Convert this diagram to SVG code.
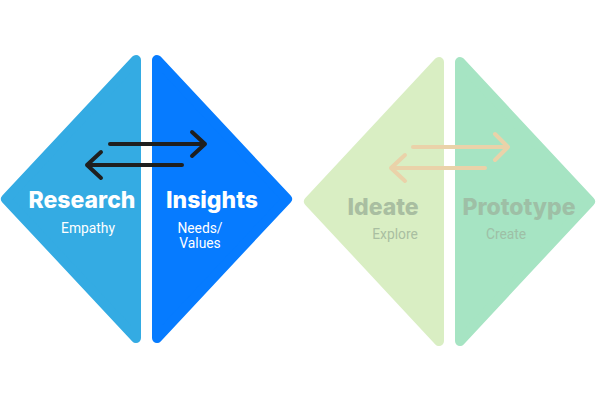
<svg xmlns="http://www.w3.org/2000/svg" width="597" height="400" viewBox="0 0 597 400">
<style>
.shape{stroke-width:10;stroke-linejoin:round}
.title{font-family:Inter,"Open Sans",sans-serif;font-weight:800;font-size:23px;text-anchor:middle}
.sub{font-family:Roboto,"Noto Sans",sans-serif;font-size:13.8px;text-anchor:middle}
.arrow{fill:none;stroke-width:4;stroke-linecap:round;stroke-linejoin:round}
</style>
<rect width="597" height="400" fill="#ffffff"/>
<g id="research">
<polygon class="shape" points="136,60 6,199 136,338" fill="#34ABE3" stroke="#34ABE3"/>
<text class="title" x="82" y="208" fill="#ffffff">Research</text>
<text class="sub" x="88" y="233" fill="#ffffff">Empathy</text>
</g>
<g id="insights">
<polygon class="shape" points="157,60 287,199 157,338" fill="#067BFF" stroke="#067BFF"/>
<text class="title" x="212" y="208" fill="#ffffff">Insights</text>
<text class="sub" x="200" y="233" fill="#ffffff">Needs/</text>
<text class="sub" x="200" y="248" fill="#ffffff">Values</text>
</g>
<g id="ideate">
<polygon class="shape" points="439,62 309,201.5 439,341" fill="#D9EEC3" stroke="#D9EEC3"/>
<text class="title" x="383" y="215" fill="#A9BEA1">Ideate</text>
<text class="sub" x="395" y="239" fill="#A9BEA1">Explore</text>
</g>
<g id="prototype">
<polygon class="shape" points="460,62 590,201.5 460,341" fill="#A6E4C3" stroke="#A6E4C3"/>
<text class="title" x="519" y="215" fill="#9EBFA6">Prototype</text>
<text class="sub" x="506" y="239" fill="#9EBFA6">Create</text>
</g>
<g id="connectors">
<path class="arrow" stroke="#1F1F1F" d="M110,144 H205 M192,132 L205,144 L192,156"/>
<path class="arrow" stroke="#1F1F1F" d="M182,165 H87 M101,152 L87,165 L101,178"/>
<path class="arrow" stroke="#EAD2A9" d="M413,147 H508 M495,134 L508,147 L495,160"/>
<path class="arrow" stroke="#EAD2A9" d="M485,168 H391 M405,155 L391,168 L405,181"/>
</g>
</svg>
